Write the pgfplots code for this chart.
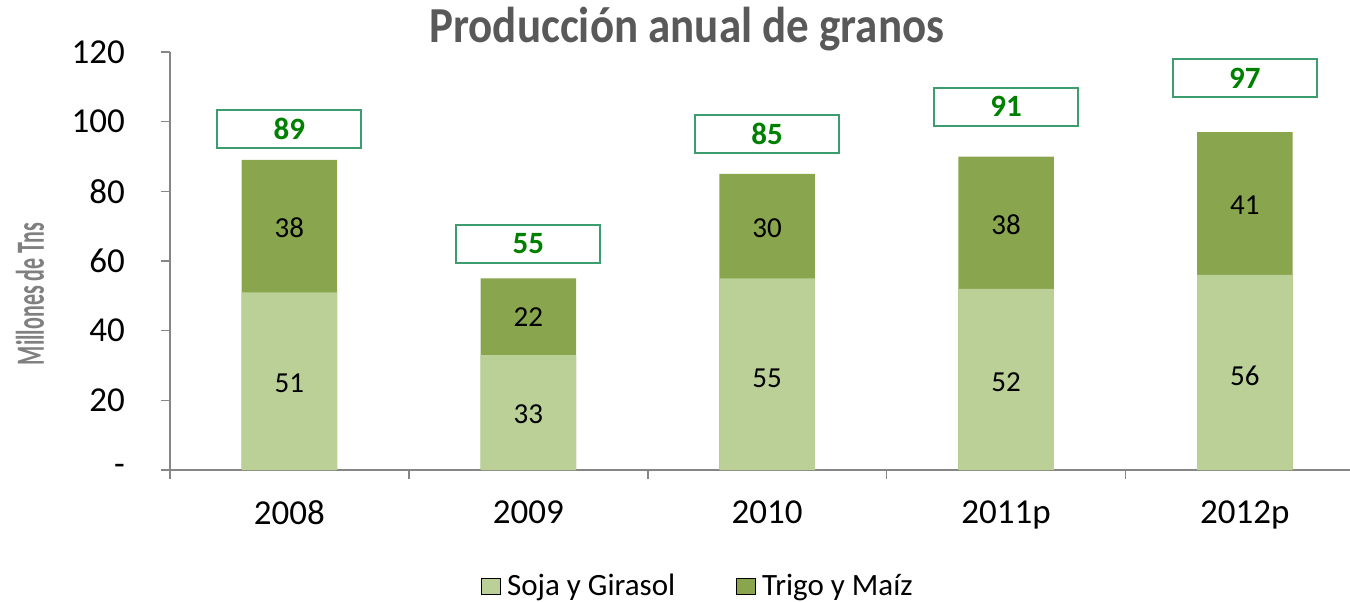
\documentclass[border=0pt]{standalone}
\usepackage{graphicx}
\usepackage{pgfplots}
\usepackage{pgfplotstable}
\pgfplotsset{compat=1.18}
\usepackage{fontspec}
\setmainfont{Carlito}
\definecolor{light}{RGB}{187,208,151}
\definecolor{dark}{RGB}{137,165,78}
\definecolor{axgray}{RGB}{134,134,134}
\definecolor{boxgreen}{RGB}{60,158,110}
\definecolor{txtgreen}{RGB}{0,128,0}
\definecolor{titlegray}{RGB}{89,89,89}
\definecolor{labgray}{RGB}{128,128,128}

\pgfplotstableread{
x soja total
0 51 89
1 33 55
2 55 85
3 52 90
4 56 97
}\bars

\pgfplotstableread{
x y label
0 24.8 51
1 16.0 33
2 26.4 55
3 25.3 52
4 27.0 56
0 69.5 38
1 43.8 22
2 69.5 30
3 70.5 38
4 76.0 41
}\segs

\pgfplotstableread{
x y label
0 98.0 89
1 64.9 55
2 96.5 85
3 104.3 91
4 112.4 97
}\totals

\begin{document}
\begin{tikzpicture}
\useasboundingbox (0,0) rectangle (675pt,300.5pt);
\begin{axis}[
  at={(85pt,65.5pt)}, anchor=south west,
  scale only axis, width=590pt, height=209pt,
  xmin=-0.5, xmax=4.44, ymin=0, ymax=120,
  clip=false,
  axis lines*=left,
  axis line style={axgray, line width=0.8pt},
  ytick={0,20,...,120}, yticklabels={-,20,40,60,80,100,120},
  xtick={-0.5,0.5,1.5,2.5,3.5}, xticklabels={},
  extra x ticks={0,1,2,3,4},
  extra x tick labels={2008,2009,2010,2011p,2012p},
  extra x tick style={major tick length=0pt, tick style={draw=none}},
  tick align=outside, major tick length=4.5pt,
  tick style={axgray, line width=0.8pt},
  ticklabel style={font=\fontsize{17.5}{20}\selectfont, black},
  yticklabel style={xshift=-14.5pt},
  xticklabel style={yshift=-12pt},
  title={\scalebox{1}[1.12]{Producción anual de granos}},
  title style={at={(axis description cs:0.438,1)}, anchor=base, yshift=-1pt,
    font=\bfseries\fontsize{22.5}{26}\selectfont, text=titlegray},
  ylabel={\scalebox{0.55}[1]{Millones de Tns}},
  ylabel style={at={(axis description cs:-0.1186,0.421)}, anchor=center,
    font=\bfseries\fontsize{20}{22}\selectfont, text=labgray},
  legend style={at={(axis description cs:0.4483,-0.2775)}, anchor=center,
    draw=none, legend columns=2, font=\fontsize{15.5}{18}\selectfont,
    /tikz/every even column/.append style={column sep=28.5pt}},
  legend image code/.code={\fill[#1] (0pt,-4pt) rectangle (9.5pt,4pt); \path (10.5pt,0pt);},
]
\addplot[ybar, bar width=0.4, bar shift=0pt, fill=dark, draw=none, forget plot]
  table[x=x,y=total]{\bars};
\addplot[ybar, bar width=0.4, bar shift=0pt, fill=light, draw=none, forget plot]
  table[x=x,y=soja]{\bars};
\addplot[draw=none, mark=none, forget plot, nodes near coords,
  point meta=explicit symbolic,
  every node near coord/.style={anchor=center, font=\fontsize{14.5}{17}\selectfont, text=black}]
  table[x=x,y=y,meta=label]{\segs};
\addplot[draw=none, mark=none, forget plot, nodes near coords,
  point meta=explicit symbolic,
  every node near coord/.style={anchor=center, draw=boxgreen, line width=1pt,
    minimum width=72pt, minimum height=19pt, inner sep=0pt,
    font=\bfseries\fontsize{15.5}{18}\selectfont, text=txtgreen}]
  table[x=x,y=y,meta=label]{\totals};
\addlegendimage{fill=light}
\addlegendentry{Soja y Girasol}
\addlegendimage{fill=dark}
\addlegendentry{Trigo y Maíz}
\end{axis}
\end{tikzpicture}
\end{document}
